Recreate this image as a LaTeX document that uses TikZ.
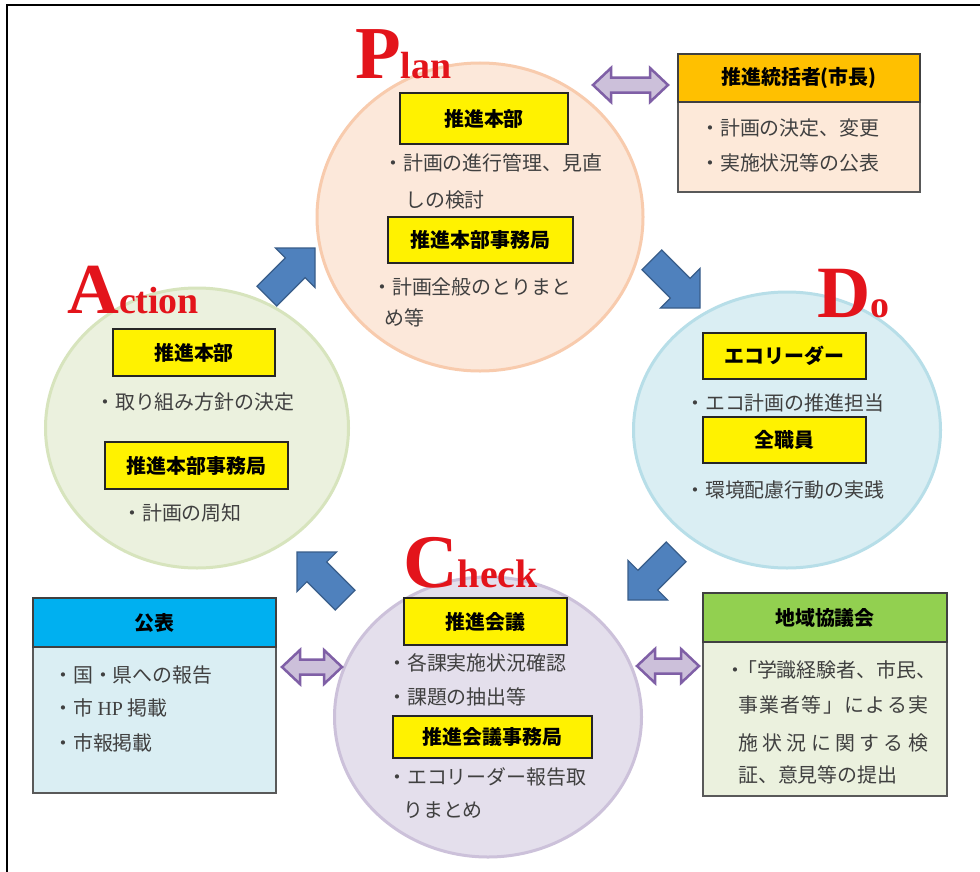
\documentclass[tikz,border=0pt]{standalone}
\usepackage{fontspec}
\setmainfont{Noto Sans CJK JP}
\newfontfamily\titlefont{Liberation Serif}
\usetikzlibrary{shapes.geometric}
\definecolor{txtg}{HTML}{404040}
\definecolor{planfill}{HTML}{FCE8DA}
\definecolor{planline}{HTML}{F8CBAD}
\definecolor{actfill}{HTML}{EBF1DE}
\definecolor{actline}{HTML}{D7E4BD}
\definecolor{dofill}{HTML}{DAEEF3}
\definecolor{doline}{HTML}{B7DEE8}
\definecolor{chkfill}{HTML}{E4DFEC}
\definecolor{chkline}{HTML}{CCC1DA}
\definecolor{bluefill}{HTML}{4F81BD}
\definecolor{bluedark}{HTML}{385D8A}
\definecolor{lavfill}{HTML}{CCC0DA}
\definecolor{lavline}{HTML}{7F5FA6}
\definecolor{goldhead}{HTML}{FFC000}
\definecolor{peachbody}{HTML}{FDE9D9}
\definecolor{cyanhead}{HTML}{00B0F0}
\definecolor{lightblue}{HTML}{DAEEF3}
\definecolor{greenhead}{HTML}{92D050}
\definecolor{greenbody}{HTML}{EBF1DE}
\definecolor{titlered}{HTML}{E3141B}
\newcommand\myblue[3]{%
  \begin{scope}[shift={(#1,#2)},rotate=#3]
    \filldraw[fill=bluefill,draw=bluedark,line width=1.2bp,line join=miter]
      (0,0) -- (-28,28) -- (-28,14) -- (-68,14) -- (-68,-14) -- (-28,-14) -- (-28,-28) -- cycle;
  \end{scope}}
\newcommand\mydbl[3]{%
  \begin{scope}[shift={(#1,#2)}]
    \filldraw[fill=lavfill,draw=lavline,line width=2.5bp,line join=miter]
      (-#3/2,0) -- (-#3/2+18,-17) -- (-#3/2+18,-7.5) -- (#3/2-18,-7.5) -- (#3/2-18,-17) -- (#3/2,0)
      -- (#3/2-18,17) -- (#3/2-18,7.5) -- (-#3/2+18,7.5) -- (-#3/2+18,17) -- cycle;
  \end{scope}}
\begin{document}
\begin{tikzpicture}[x=1bp,y=-1bp,
  circ/.style={ellipse,inner sep=0,line width=3bp},
  ybox/.style={draw=black!85,line width=1.2bp,fill=yellow,inner sep=0,text=black,
    font=\bfseries\fontsize{20}{20}\selectfont},
  hbox/.style={draw=black!75,line width=1.5bp,inner sep=0,text=black,
    font=\bfseries\fontsize{20}{20}\selectfont},
  bbox/.style={draw=black!65,line width=1.5bp,inner sep=0},
  btxt/.style={anchor=west,inner sep=0,text=txtg,font=\fontsize{20}{20}\selectfont},
  ttl/.style={anchor=base west,inner sep=0,text=titlered,font=\titlefont\bfseries}]
\useasboundingbox (0,0) rectangle (980,872);
\fill[white] (0,0) rectangle (980,872);
\draw[line width=2bp,black] (7,872) -- (7,5) -- (980,5);

% circles
\node[circ,draw=planline,fill=planfill,minimum width=326bp,minimum height=308bp] (plan) at (480,217) {};
\node[circ,draw=actline,fill=actfill,minimum width=303bp,minimum height=280bp] (act) at (197,428) {};
\node[circ,draw=doline,fill=dofill,minimum width=307bp,minimum height=276bp] (do) at (787,430) {};
\node[circ,draw=chkline,fill=chkfill,minimum width=307bp,minimum height=280bp] (chk) at (488,717) {};

% blue cycle arrows
\myblue{315}{248}{45}
\myblue{700}{308}{-45}
\myblue{628}{600}{-135}
\myblue{297}{552}{135}

% lavender double arrows
\mydbl{630.5}{85}{75}
\mydbl{312}{667}{60}
\mydbl{668}{666}{62}

% Plan contents
\node[ybox,minimum width=168bp,minimum height=51bp] (p1) at (484,118.5) {推進本部};
\node[btxt] (p1a) at (383,163) {・計画の進行管理、見直};
\node[btxt] (p1b) at (405,200) {しの検討};
\node[ybox,minimum width=185bp,minimum height=46bp] (p2) at (480.5,240) {推進本部事務局};
\node[btxt] (p2a) at (372,287) {・計画全般のとりまと};
\node[btxt] (p2b) at (384,318) {め等};

% Action contents
\node[ybox,minimum width=162bp,minimum height=47bp] (a1) at (194,352.5) {推進本部};
\node[btxt] (a1a) at (95,402) {・取り組み方針の決定};
\node[ybox,minimum width=183bp,minimum height=47bp] (a2) at (196.5,465.5) {推進本部事務局};
\node[btxt] (a2a) at (122,513) {・計画の周知};

% Do contents
\node[ybox,minimum width=163bp,minimum height=46bp] (d1) at (784.5,356) {エコリーダー};
\node[btxt] (d1a) at (685,403) {・エコ計画の推進担当};
\node[ybox,minimum width=163bp,minimum height=46bp] (d2) at (784.5,440) {全職員};
\node[btxt] (d2a) at (685,490) {・環境配慮行動の実践};

% Check contents
\node[ybox,minimum width=163bp,minimum height=47bp] (c1) at (485.5,621.5) {推進会議};
\node[btxt] (c1a) at (387,663) {・各課実施状況確認};
\node[btxt] (c1b) at (387,697) {・課題の抽出等};
\node[ybox,minimum width=199bp,minimum height=42bp] (c2) at (492.5,737) {推進会議事務局};
\node[btxt] (c2a) at (387,777) {・エコリーダー報告取};
\node[btxt] (c2b) at (403,810) {りまとめ};

% top right box
\node[bbox,fill=peachbody,minimum width=242bp,minimum height=90bp] (mb) at (799,147) {};
\node[hbox,fill=goldhead,minimum width=242bp,minimum height=48bp] (mh) at (799,78) {推進統括者(市長)};
\node[btxt] (m1) at (700,128) {・計画の決定、変更};
\node[btxt] (m2) at (700,163) {・実施状況等の公表};

% left bottom box
\node[bbox,fill=lightblue,minimum width=243bp,minimum height=146bp] (kb) at (154.5,720) {};
\node[hbox,fill=cyanhead,minimum width=243bp,minimum height=49bp] (kh) at (154.5,622.5) {公表};
\node[btxt] (k1) at (53,675) {・国・県への報告};
\node[btxt] (k2) at (53,708) {・市 {\titlefont HP} 掲載};
\node[btxt] (k3) at (53,743) {・市報掲載};

% right bottom box
\node[bbox,fill=greenbody,minimum width=244bp,minimum height=154bp] (gb) at (825,719) {};
\node[hbox,fill=greenhead,minimum width=244bp,minimum height=49bp] (gh) at (825,617.5) {地域協議会};
\node[btxt] (g1) at (725,670) {・\kern-8bp「学識経験者、市民、};
\node[btxt] (g2) at (738,705) {\hbox to 190bp{事\hfil 業\hfil 者\hfil 等\hfil 」\hfil に\hfil よ\hfil る\hfil 実}};
\node[btxt] (g3) at (738,743) {\hbox to 190bp{施\hfil 状\hfil 況\hfil に\hfil 関\hfil す\hfil る\hfil 検}};
\node[btxt] (g4) at (738,775) {証、意見等の提出};

% titles
\node[ttl] (tP) at (355,78) {\fontsize{75}{75}\selectfont P\fontsize{38}{38}\selectfont lan};
\node[ttl] (tA) at (67,313) {\fontsize{72}{72}\selectfont A\fontsize{38}{38}\selectfont ction};
\node[ttl] (tD) at (817,317) {\fontsize{74}{74}\selectfont D\fontsize{38}{38}\selectfont o};
\node[ttl] (tC) at (403,587) {\fontsize{76}{76}\selectfont C\fontsize{40}{40}\selectfont heck};
\end{tikzpicture}
\end{document}
